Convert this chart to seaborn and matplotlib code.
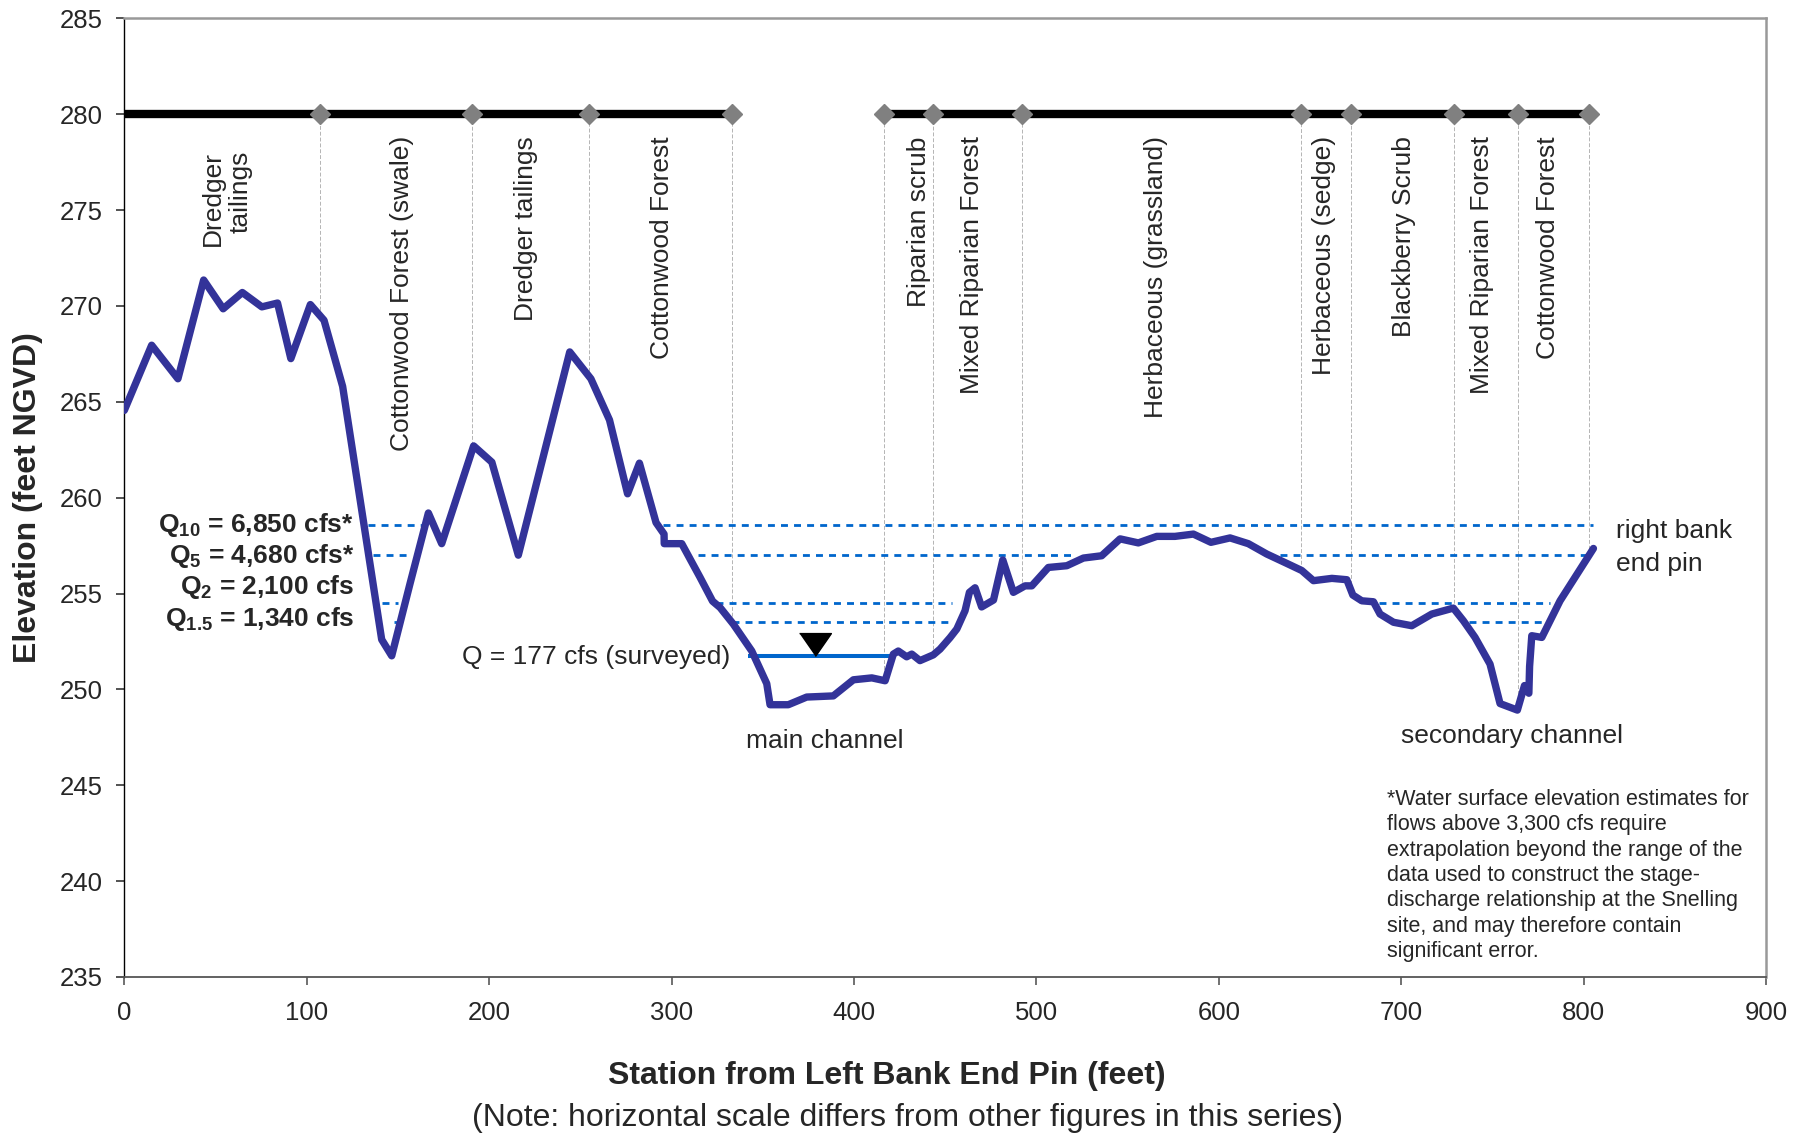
import matplotlib
matplotlib.use("Agg")
import matplotlib.pyplot as plt
import seaborn as sns
import numpy as np
import pandas as pd

# ground profile
station = [0, 15, 29.4, 43.5, 54.2, 64.7, 75.4, 84, 91.3, 102, 109.5, 119.7, 141.1, 146.6,
           156.6, 166.7, 174, 191.5, 201.5, 216, 244.2, 255.8, 266, 275.9, 282.4, 291.5,
           295.9, 296.0, 305.6, 315.6, 322.5, 326.6, 333.9, 344, 352.2, 354, 364, 374.1,
           388.7, 399.7, 409.8, 417.1, 421.6, 424.3, 428.9, 431.7, 436.2, 443.5, 447.2,
           452.7, 456.4, 460.9, 463.3, 466.4, 470, 476.5, 481.6, 487.4, 493.8, 497.5,
           506.6, 516.7, 525.8, 535.8, 545.9, 555.9, 566, 576, 586.1, 595.7, 606.2, 616.2,
           626.3, 637.3, 645.5, 651.9, 662, 670.2, 673.5, 678.4, 684.8, 688.4, 695.8,
           705.8, 716.8, 728.6, 734.1, 740.5, 748.7, 754.2, 763.7, 767.6, 770.0, 770.4,
           771.6, 777.1, 787.1, 805.4]
elevation = [264.55, 267.95, 266.2, 271.35, 269.85, 270.7, 269.95, 270.15, 267.25, 270.07,
             269.25, 265.8, 252.6, 251.75, 255.5, 259.2, 257.6, 262.7, 261.85, 257.0, 267.6,
             266.2, 264.05, 260.2, 261.8, 258.7, 258.1, 257.6, 257.6, 255.85, 254.6, 254.27,
             253.4, 252.0, 250.3, 249.2, 249.2, 249.6, 249.66, 250.5, 250.6, 250.45, 251.84,
             252.0, 251.7, 251.84, 251.5, 251.8, 252.1, 252.7, 253.15, 254.1, 255.06, 255.3,
             254.3, 254.66, 256.75, 255.06, 255.4, 255.4, 256.36, 256.45, 256.85, 256.97,
             257.85, 257.64, 257.98, 257.98, 258.1, 257.67, 257.9, 257.6, 257.06, 256.57,
             256.2, 255.67, 255.79, 255.72, 254.92, 254.62, 254.57, 253.93, 253.5, 253.32,
             253.93, 254.24, 253.58, 252.71, 251.32, 249.26, 248.92, 250.2, 249.8, 251.2,
             252.8, 252.71, 254.62, 257.35]

# vegetation zones (line at elevation 280)
zone_runs = [(0, 333), (416.7, 803)]
zone_bounds = [107.5, 190.6, 255, 333, 416.7, 443.5, 492, 645.2, 672.4, 729, 764.3, 803]
zone_names = ["Dredger\ntailings", "Cottonwood Forest (swale)", "Dredger tailings",
              "Cottonwood Forest", "Riparian scrub", "Mixed Riparian Forest",
              "Herbaceous (grassland)", "Herbaceous (sedge)", "Blackberry Scrub",
              "Mixed Riparian Forest", "Cottonwood Forest"]
zone_name_x = [56.2, 152.1, 220.1, 294.9, 435.8, 464.9, 565.5, 657.8, 701.5, 744.5, 780.5]

# water surface elevations and the stretches they were drawn over
flow_names = [r"$\mathbf{Q}_{\mathbf{10}}$ = 6,850 cfs*", r"$\mathbf{Q}_{\mathbf{5}}$ = 4,680 cfs*",
              r"$\mathbf{Q}_{\mathbf{2}}$ = 2,100 cfs", r"$\mathbf{Q}_{\mathbf{1.5}}$ = 1,340 cfs"]
flow_wse = [258.58, 257.03, 254.5, 253.53]
flow_label_y = [258.19, 256.6, 254.97, 253.33]
flow_spans = [
    [(133.8, 163.9), (295.5, 805.4)],
    [(136.5, 156.6), (314.7, 520), (633.6, 801.8)],
    [(141.1, 150.2), (324.4, 453.6), (688, 781.7)],
    [(147.9, 150.2), (333, 452), (737.4, 779.8)],
]
survey_wse = 251.75
survey_span = (342, 419.8)
survey_marker_x = 378.7

footnote = ("*Water surface elevation estimates for\nflows above 3,300 cfs require\n"
            "extrapolation beyond the range of the\ndata used to construct the stage-\n"
            "discharge relationship at the Snelling\nsite, and may therefore contain\n"
            "significant error.")

sns.set_style("ticks")
plt.rcParams["font.family"] = ["Liberation Sans", "DejaVu Sans"]
plt.rcParams["mathtext.fontset"] = "custom"
plt.rcParams["mathtext.rm"] = "Liberation Sans"
plt.rcParams["mathtext.bf"] = "Liberation Sans:bold"
plt.rcParams["mathtext.it"] = "Liberation Sans:italic"

fig = plt.figure(figsize=(18.09, 11.38), dpi=100)
ax = fig.add_axes([0.06871, 0.14148, 0.90752, 0.84244])

profile = pd.DataFrame({"station": station, "elevation": elevation})

# thin guides from each zone boundary down to the ground
ground_at_bounds = np.interp(zone_bounds, station, elevation)
ax.vlines(zone_bounds, ground_at_bounds, 280, colors="#b4b4b4", lw=0.7,
          linestyles=(0, (4, 2)), zorder=1)

for wse, spans in zip(flow_wse, flow_spans):
    ax.hlines([wse] * len(spans), [s[0] for s in spans], [s[1] for s in spans],
              colors="#0066CC", lw=2.0, linestyles=(0, (2.5, 2.2)), zorder=2)

ax.hlines(survey_wse, survey_span[0], survey_span[1], colors="#0066CC", lw=2.9, zorder=2)
ax.plot([survey_marker_x], [survey_wse], ls="none", color="black", ms=33,
        marker=[(-1, 1.44), (1, 1.44), (0, 0)], zorder=5)

sns.lineplot(data=profile, x="station", y="elevation", sort=False, estimator=None,
             color="#333399", lw=5.3, ax=ax, zorder=4)

for x0, x1 in zone_runs:
    ax.plot([x0, x1], [280, 280], color="black", lw=6, solid_capstyle="butt", zorder=3)
ax.plot(zone_bounds, [280] * len(zone_bounds), ls="none", marker="D", ms=10,
        color="#808080", zorder=4)

for name, x in zip(zone_names, zone_name_x):
    top = 278.1 if "\n" in name else 278.85
    ax.text(x, top, name, rotation=90, ha="center", va="top", multialignment="right",
            fontsize=19)

for name, y in zip(flow_names, flow_label_y):
    ax.text(126, y, name, ha="right", va="baseline", fontsize=19, fontweight="bold")

ax.text(332.2, 251.35, "Q = 177 cfs (surveyed)", ha="right", va="baseline", fontsize=19)
ax.text(384.2, 246.95, "main channel", ha="center", va="baseline", fontsize=19)
ax.text(760.5, 247.22, "secondary channel", ha="center", va="baseline", fontsize=19)
ax.text(818, 257.88, "right bank", ha="left", va="baseline", fontsize=19)
ax.text(818, 256.2, "end pin", ha="left", va="baseline", fontsize=19)
ax.text(692.2, 244.8, footnote, ha="left", va="top", fontsize=15.5, linespacing=1.27)

ax.set_xlim(0, 900)
ax.set_ylim(235, 285)
ax.set_xticks(np.arange(0, 901, 100))
ax.set_yticks(np.arange(235, 286, 5))
ax.tick_params(axis="x", labelsize=18.5, length=6, width=1.3, color="#666666", pad=11)
ax.tick_params(axis="y", labelsize=18.5, length=6, width=1.3, color="#444444", pad=9.5)

ax.spines["left"].set_color("black")
ax.spines["left"].set_linewidth(1.0)
ax.spines["bottom"].set_color("#555555")
ax.spines["bottom"].set_linewidth(1.3)
for side in ["top", "right"]:
    ax.spines[side].set_visible(True)
    ax.spines[side].set_color("#999999")
    ax.spines[side].set_linewidth(1.8)

ax.set_xlabel("Station from Left Bank End Pin (feet)", fontsize=23, fontweight="bold", va="center")
ax.xaxis.set_label_coords(0.4643, -0.1033)
ax.set_ylabel("Elevation (feet NGVD)", fontsize=23, fontweight="bold", va="center")
ax.yaxis.set_label_coords(-0.0588, 0.5)
fig.text(907.4 / 1809, 1 - 1118 / 1138,
         "(Note: horizontal scale differs from other figures in this series)",
         ha="center", va="center", fontsize=23)

fig.savefig("out.png", dpi=100)
plt.close(fig)
